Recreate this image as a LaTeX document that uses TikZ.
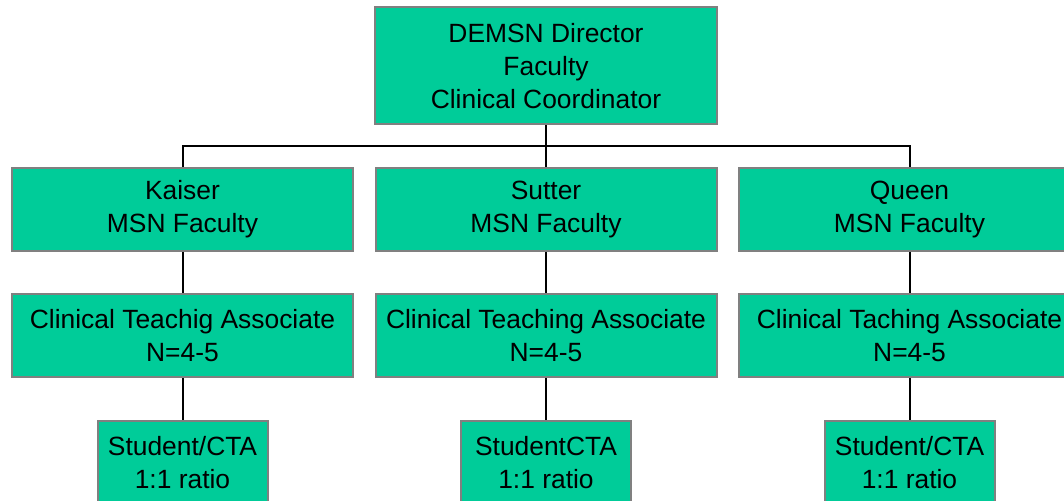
\documentclass[tikz,border=0pt]{standalone}
\usepackage{fontspec}
\setmainfont{Liberation Sans}
\usetikzlibrary{positioning}

\definecolor{boxgreen}{RGB}{0,204,153}
\definecolor{boxedge}{RGB}{128,128,128}

\begin{document}
\begin{tikzpicture}[
    x=0.5pt, y=-0.5pt,
    unit/.style={rectangle, draw=boxedge, line width=1pt, fill=boxgreen, align=center,
        minimum width=170.5pt, minimum height=41.5pt, inner sep=0pt,
        font=\fontsize{13.2}{16.5}\selectfont},
    head/.style={unit, minimum width=171pt, minimum height=58.5pt},
    student/.style={unit, minimum width=85pt},
    link/.style={draw, black, line width=1pt}
]
\clip (0,0) rectangle (1064,501);

% Define node positions
\node[head] (dir) at (546, 66) {DEMSN Director\\Faculty\\Clinical Coordinator};

\node[unit] (kaiser) at (182.5, 209.5) {Kaiser\\MSN Faculty};
\node[unit] (sutter) at (546, 209.5) {Sutter\\MSN Faculty};
\node[unit] (queen) at (909.5, 209.5) {Queen\\MSN Faculty};

\node[unit] (ctaK) at (182.5, 335.5) {Clinical Teachig Associate\\N=4-5};
\node[unit] (ctaS) at (546, 335.5) {Clinical Teaching Associate\\N=4-5};
\node[unit] (ctaQ) at (909.5, 335.5) {Clinical Taching Associate\\N=4-5};

\node[student] (stuK) at (182.5, 462.5) {Student/CTA\\1:1 ratio};
\node[student] (stuS) at (546, 462.5) {StudentCTA\\1:1 ratio};
\node[student] (stuQ) at (909.5, 462.5) {Student/CTA\\1:1 ratio};

% Draw connectors
\coordinate (bar) at (546, 146);
\draw[link] (dir) -- (bar);
\draw[link] (bar) -| (kaiser);
\draw[link] (bar) -- (sutter);
\draw[link] (bar) -| (queen);

\draw[link] (kaiser) -- (ctaK);
\draw[link] (sutter) -- (ctaS);
\draw[link] (queen) -- (ctaQ);

\draw[link] (ctaK) -- (stuK);
\draw[link] (ctaS) -- (stuS);
\draw[link] (ctaQ) -- (stuQ);

\end{tikzpicture}
\end{document}
